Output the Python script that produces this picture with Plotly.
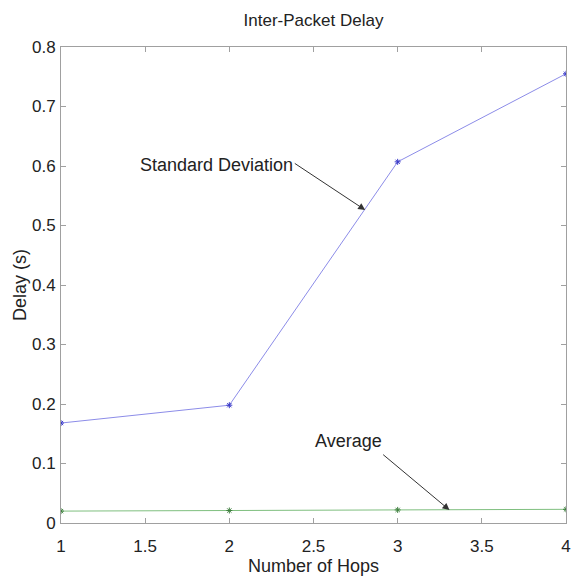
import plotly.graph_objects as go

hops = [1, 2, 3, 4]
std_dev = [0.168, 0.198, 0.607, 0.755]
average = [0.020, 0.021, 0.022, 0.023]
x_ticks = [1, 1.5, 2, 2.5, 3, 3.5, 4]
x_tick_labels = ["1", "1.5", "2", "2.5", "3", "3.5", "4"]
y_ticks = [0, 0.1, 0.2, 0.3, 0.4, 0.5, 0.6, 0.7, 0.8]
y_tick_labels = ["0", "0.1", "0.2", "0.3", "0.4", "0.5", "0.6", "0.7", "0.8"]

FONT = "Liberation Sans, Arial, Helvetica, sans-serif"
TXT = "#222222"

fig = go.Figure()
fig.add_trace(go.Scatter(x=hops, y=std_dev, mode="lines+markers",
                         line=dict(color="#8c8ce8", width=1),
                         marker=dict(symbol="asterisk", size=5, color="#3a3ac8",
                                     line=dict(width=1, color="#3a3ac8")),
                         showlegend=False))
fig.add_trace(go.Scatter(x=hops, y=average, mode="lines+markers",
                         line=dict(color="#7fbf7f", width=1),
                         marker=dict(symbol="asterisk", size=5, color="#3f7f3f",
                                     line=dict(width=1, color="#3f7f3f")),
                         showlegend=False))

# Standard Deviation annotation
fig.add_annotation(x=2.807, y=0.526, xref="x", yref="y",
                   ax=2.38, ay=0.606, axref="x", ayref="y",
                   text="", showarrow=True, arrowhead=2, arrowsize=1.4,
                   arrowwidth=1, arrowcolor="#333333")
fig.add_annotation(x=1.924, y=0.602, xref="x", yref="y", text="Standard Deviation",
                   showarrow=False, xanchor="center", yanchor="middle",
                   font=dict(family=FONT, size=18, color=TXT))

# Average annotation
fig.add_annotation(x=3.308, y=0.0217, xref="x", yref="y",
                   ax=2.905, ay=0.117, axref="x", ayref="y",
                   text="", showarrow=True, arrowhead=2, arrowsize=1.4,
                   arrowwidth=1, arrowcolor="#333333")
fig.add_annotation(x=2.706, y=0.137, xref="x", yref="y", text="Average",
                   showarrow=False, xanchor="center", yanchor="middle",
                   font=dict(family=FONT, size=18, color=TXT))

axis_common = dict(showline=True, linecolor="#a0a0a0", linewidth=1, mirror="ticks",
                   ticks="inside", ticklen=5, tickcolor="#a0a0a0", showgrid=False,
                   zeroline=False, tickfont=dict(family=FONT, size=17, color=TXT))

fig.update_xaxes(range=[1, 4], tickvals=x_ticks, ticktext=x_tick_labels,
                 ticklabelstandoff=8,
                 title=dict(text="Number of Hops", font=dict(family=FONT, size=18, color=TXT),
                            standoff=2), **axis_common)
fig.update_yaxes(range=[0, 0.8], tickvals=y_ticks, ticktext=y_tick_labels,
                 ticklabelstandoff=1,
                 title=dict(text="Delay (s)", font=dict(family=FONT, size=18, color=TXT),
                            standoff=0), **axis_common)

fig.update_layout(width=577, height=582, margin=dict(l=61, r=6, t=47, b=59),
                  paper_bgcolor="white", plot_bgcolor="white",
                  title=dict(text="Inter-Packet Delay", x=0.5, xref="paper", xanchor="center",
                             y=1 - 20 / 582, yanchor="middle",
                             font=dict(family=FONT, size=17, color=TXT)))

fig.write_html("out.html")
